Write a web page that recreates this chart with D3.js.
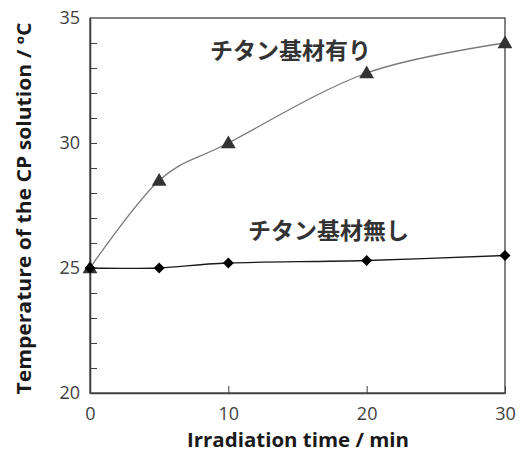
<!DOCTYPE html>
<html>
<head>
<meta charset="utf-8">
<script src="https://cdn.jsdelivr.net/npm/d3@7"></script>
<style>
  body { margin: 0; background: #fff; }
  .tick text { font-family: "Open Sans", sans-serif; font-size: 18px; fill: #404040; }
  .axis path, .axis line { stroke: #404040; }
</style>
</head>
<body>
<div id="chart"></div>
<script>
var times = [0, 5, 10, 20, 30];
var withTitanium = [25, 28.5, 30, 32.8, 34];
var withoutTitanium = [25, 25, 25.2, 25.3, 25.5];
var xTicks = [0, 10, 20, 30];
var yTicks = [20, 25, 30, 35];
var labelWith = "チタン基材有り";
var labelWithout = "チタン基材無し";

function init() {
    var w = 521;
    var h = 462;
    var left = 90, top = 18, right = 505, bottom = 393;

    var svg = d3.select("#chart")
        .append("svg")
        .attr("width", w)
        .attr("height", h);

    var xScale = d3.scaleLinear()
        .domain([0, 30])
        .range([left, right]);

    var yScale = d3.scaleLinear()
        .domain([20, 35])
        .range([bottom, top]);

    // frame
    svg.append("rect")
        .attr("x", left)
        .attr("y", top)
        .attr("width", right - left)
        .attr("height", bottom - top)
        .attr("fill", "none")
        .attr("stroke", "#404040")
        .attr("stroke-width", 1.3);

    // x axis, ticks pointing inside
    var xAxis = d3.axisBottom(xScale)
        .tickValues(xTicks)
        .tickSizeInner(-7)
        .tickSizeOuter(0)
        .tickPadding(14);

    svg.append("g")
        .attr("class", "axis")
        .attr("transform", "translate(0," + bottom + ")")
        .call(xAxis);

    // y minor ticks every degree, pointing inside
    var yMinor = d3.axisLeft(yScale)
        .tickValues(d3.range(21, 35))
        .tickSizeInner(-7)
        .tickSizeOuter(0)
        .tickFormat("");

    svg.append("g")
        .attr("class", "axis")
        .attr("transform", "translate(" + left + ",0)")
        .call(yMinor);

    var yAxis = d3.axisLeft(yScale)
        .tickValues(yTicks)
        .tickSize(0)
        .tickPadding(10);

    svg.append("g")
        .attr("class", "axis")
        .attr("transform", "translate(" + left + ",0)")
        .call(yAxis);

    svg.selectAll(".axis path.domain").attr("stroke-width", 1.3);

    var line = d3.line()
        .x(function(d) { return xScale(d[0]); })
        .y(function(d) { return yScale(d[1]); })
        .curve(d3.curveCardinal.tension(0));

    var s1 = times.map(function(t, i) { return [t, withTitanium[i]]; });
    var s2 = times.map(function(t, i) { return [t, withoutTitanium[i]]; });

    svg.append("path")
        .datum(s1)
        .attr("d", line)
        .attr("fill", "none")
        .attr("stroke", "#7a7a7a")
        .attr("stroke-width", 1.3);

    svg.append("path")
        .datum(s2)
        .attr("d", line)
        .attr("fill", "none")
        .attr("stroke", "#1a1a1a")
        .attr("stroke-width", 1.3);

    var tri = d3.symbol().type(d3.symbolTriangle).size(95);
    // square turned 45 degrees gives the wide Excel diamond
    var dia = d3.symbol().type(d3.symbolSquare).size(60);

    svg.selectAll(".tri")
        .data(s1)
        .enter()
        .append("path")
        .attr("class", "tri")
        .attr("d", tri)
        .attr("fill", "#333")
        .attr("transform", function(d) {
            return "translate(" + xScale(d[0]) + "," + (yScale(d[1]) + 1) + ")";
        });

    svg.selectAll(".dia")
        .data(s2)
        .enter()
        .append("path")
        .attr("class", "dia")
        .attr("d", dia)
        .attr("fill", "#000")
        .attr("transform", function(d) {
            return "translate(" + xScale(d[0]) + "," + yScale(d[1]) + ") rotate(45)";
        });

    // series labels
    svg.append("text")
        .attr("x", 210)
        .attr("y", 59)
        .attr("font-family", "'Noto Sans CJK JP', sans-serif")
        .attr("font-weight", "bold")
        .attr("font-size", 23)
        .attr("fill", "#333")
        .text(labelWith);

    svg.append("text")
        .attr("x", 248)
        .attr("y", 239)
        .attr("font-family", "'Noto Sans CJK JP', sans-serif")
        .attr("font-weight", "bold")
        .attr("font-size", 23)
        .attr("fill", "#333")
        .text(labelWithout);

    // axis titles
    svg.append("text")
        .attr("x", 298)
        .attr("y", 447)
        .attr("text-anchor", "middle")
        .attr("font-family", "'Open Sans', sans-serif")
        .attr("font-weight", "bold")
        .attr("font-size", 20)
        .attr("textLength", 222)
        .attr("lengthAdjust", "spacingAndGlyphs")
        .attr("fill", "#1a1a1a")
        .text("Irradiation time / min");

    svg.append("text")
        .attr("transform", "translate(31," + ((top + bottom) / 2 + 3) + ") rotate(-90)")
        .attr("text-anchor", "middle")
        .attr("font-family", "'Open Sans', sans-serif")
        .attr("font-weight", "bold")
        .attr("font-size", 19)
        .attr("textLength", 372)
        .attr("lengthAdjust", "spacingAndGlyphs")
        .attr("fill", "#1a1a1a")
        .text("Temperature of the CP solution / ºC");
}

window.onload = init;
</script>
</body>
</html>
